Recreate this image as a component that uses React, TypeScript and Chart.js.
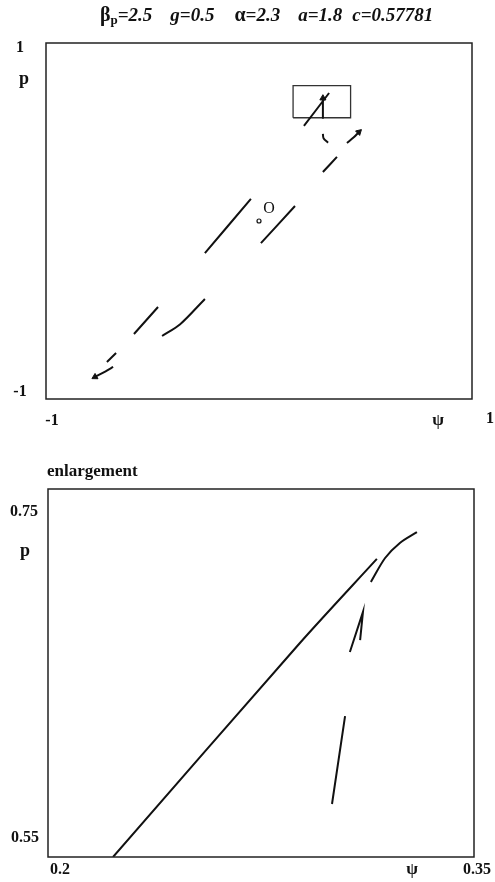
import React, { useEffect, useRef } from 'react';
import { Chart, registerables } from 'chart.js';
Chart.register(...registerables);

// ---------- data (psi, p) ----------
// top chart: phase portrait segments
const segA: number[][] = [[-0.254, -0.18], [-0.038, 0.124]];
const segB: number[][] = [[0.009, -0.124], [0.169, 0.084]];
const segC: number[][] = [[0.3, 0.275], [0.366, 0.36]];
const segCup: number[][] = [[0.3, 0.49], [0.303, 0.465], [0.324, 0.44]];
const segRightArrow: number[][] = [[0.413, 0.438], [0.445, 0.47], [0.469, 0.5]];
const segMain: number[][] = [[0.211, 0.534], [0.329, 0.719]];
const segTick: number[][] = [[0.3, 0.575], [0.3, 0.69]];
const segD: number[][] = [[-0.587, -0.635], [-0.474, -0.483]];
const segE: number[][] = [[-0.455, -0.646], [-0.37, -0.58], [-0.254, -0.438]];
const segF: number[][] = [[-0.714, -0.792], [-0.671, -0.742]];
const segG: number[][] = [[-0.77, -0.876], [-0.72, -0.845], [-0.685, -0.82]];
const originPoint: number[][] = [[0, 0]];
const zoomBoxPsi = [0.16, 0.43];
const zoomBoxP = [0.58, 0.76];

// bottom chart: enlargement
const enlLong: number[][] = [[0.2229, 0.55], [0.2887, 0.6663], [0.3158, 0.712]];
const enlCurve: number[][] = [[0.3137, 0.6995], [0.3187, 0.7125], [0.3239, 0.7207], [0.3299, 0.7266]];
const enlPeak: number[][] = [[0.3063, 0.6614], [0.3109, 0.6832], [0.3099, 0.6679]];
const enlLower: number[][] = [[0.3, 0.5788], [0.3046, 0.6266]];

// tick labels
const topYTicks = ['1', '-1'];
const topXTicks = ['-1', '1'];
const botYTicks = ['0.75', '0.55'];
const botXTicks = ['0.2', '0.35'];

const SERIF = '"Liberation Serif", "Times New Roman", serif';

const pts = (a: number[][]) => a.map(([x, y]) => ({ x, y }));

type Lbl = { text: string; x: number; y: number; font: string; align?: CanvasTextAlign };
type Piece = { t: string; font: string; dy?: number; gap?: number };

function makePlugin(labels: Lbl[], title?: { x: number; y: number; pieces: Piece[] }) {
  return {
    id: 'frameText',
    afterDraw(chart: any) {
      const { ctx, chartArea: a } = chart;
      ctx.save();
      ctx.strokeStyle = '#222';
      ctx.lineWidth = 1.5;
      ctx.strokeRect(a.left, a.top, a.right - a.left, a.bottom - a.top);
      ctx.fillStyle = '#111';
      ctx.textBaseline = 'middle';
      for (const l of labels) {
        ctx.font = l.font;
        ctx.textAlign = l.align || 'center';
        ctx.fillText(l.text, l.x, l.y);
      }
      if (title) {
        ctx.textAlign = 'left';
        let x = title.x;
        for (const p of title.pieces) {
          x += p.gap || 0;
          ctx.font = p.font;
          ctx.fillText(p.t, x, title.y + (p.dy || 0));
          x += ctx.measureText(p.t).width;
        }
      }
      ctx.restore();
    },
  };
}

const line = (data: number[][], extra: any = {}) => ({
  data: pts(data),
  showLine: true,
  borderColor: '#111',
  backgroundColor: '#111',
  borderWidth: 2,
  pointRadius: 0,
  tension: 0.3,
  ...extra,
});

const arrowEnd = (n: number, idx: number, rot: number) => ({
  pointRadius: Array.from({ length: n }, (_, i) => (i === idx ? 3.5 : 0)),
  pointStyle: 'triangle',
  pointRotation: rot,
  pointBackgroundColor: '#111',
  pointBorderColor: '#111',
  pointBorderWidth: 1,
});

export default function App() {
  const topRef = useRef<HTMLCanvasElement>(null);
  const botRef = useRef<HTMLCanvasElement>(null);

  useEffect(() => {
    const boxData = [
      [zoomBoxPsi[0], zoomBoxP[0]],
      [zoomBoxPsi[1], zoomBoxP[0]],
      [zoomBoxPsi[1], zoomBoxP[1]],
      [zoomBoxPsi[0], zoomBoxP[1]],
      [zoomBoxPsi[0], zoomBoxP[0]],
    ];
    const bold = (s: number) => `bold ${s}px ${SERIF}`;
    const boldIt = (s: number) => `italic bold ${s}px ${SERIF}`;

    const topLabels: Lbl[] = [
      { text: topYTicks[0], x: 20, y: 48, font: bold(16) },
      { text: 'p', x: 24, y: 79, font: bold(18) },
      { text: topYTicks[1], x: 20, y: 392, font: bold(16) },
      { text: topXTicks[0], x: 52, y: 421, font: bold(16) },
      { text: 'ψ', x: 438, y: 421, font: bold(17) },
      { text: topXTicks[1], x: 490, y: 419, font: bold(16) },
      { text: 'O', x: 269, y: 209, font: `${16}px ${SERIF}` },
    ];
    const title = {
      x: 100,
      y: 16,
      pieces: [
        { t: 'β', font: bold(20) },
        { t: 'p', font: bold(13), dy: 5 },
        { t: '=2.5', font: boldIt(19) },
        { t: 'g=0.5', font: boldIt(19), gap: 18 },
        { t: 'α', font: bold(20), gap: 20 },
        { t: '=2.3', font: boldIt(19) },
        { t: 'a=1.8', font: boldIt(19), gap: 18 },
        { t: 'c=0.57781', font: boldIt(19), gap: 10 },
      ],
    };

    const top = new Chart(topRef.current!, {
      type: 'scatter',
      data: {
        datasets: [
          line(segA),
          line(segB),
          line(segC),
          line(segCup),
          line(segRightArrow, arrowEnd(segRightArrow.length, segRightArrow.length - 1, 47)),
          line(segMain),
          line(segTick, arrowEnd(segTick.length, segTick.length - 1, 0)),
          line(segD),
          line(segE),
          line(segF),
          line(segG, arrowEnd(segG.length, 0, 241)),
          line(boxData, { borderWidth: 1.3, borderColor: '#333', tension: 0 }),
          {
            data: pts(originPoint),
            showLine: false,
            pointRadius: 2,
            pointBackgroundColor: '#fff',
            pointBorderColor: '#111',
            pointBorderWidth: 1.2,
          },
        ],
      } as any,
      options: {
        animation: false,
        responsive: false,
        layout: { padding: { left: 46, right: 23, top: 43, bottom: 41 } },
        plugins: { legend: { display: false }, tooltip: { enabled: false }, title: { display: false } },
        scales: {
          x: { type: 'linear', min: -1, max: 1, display: false },
          y: { type: 'linear', min: -1, max: 1, display: false },
        },
      },
      plugins: [makePlugin(topLabels, title)],
    });

    const botLabels: Lbl[] = [
      { text: 'enlargement', x: 47, y: 32, font: bold(17), align: 'left' },
      { text: botYTicks[0], x: 24, y: 72, font: bold(16) },
      { text: 'p', x: 25, y: 111, font: bold(18) },
      { text: botYTicks[1], x: 25, y: 398, font: bold(16) },
      { text: botXTicks[0], x: 60, y: 430, font: bold(16) },
      { text: 'ψ', x: 412, y: 430, font: bold(17) },
      { text: botXTicks[1], x: 477, y: 430, font: bold(16) },
    ];

    const bot = new Chart(botRef.current!, {
      type: 'scatter',
      data: {
        datasets: [line(enlLong), line(enlCurve), line(enlPeak, { tension: 0 }), line(enlLower)],
      } as any,
      options: {
        animation: false,
        responsive: false,
        layout: { padding: { left: 48, right: 21, top: 49, bottom: 25 } },
        plugins: { legend: { display: false }, tooltip: { enabled: false }, title: { display: false } },
        scales: {
          x: { type: 'linear', min: 0.2, max: 0.35, display: false },
          y: { type: 'linear', min: 0.55, max: 0.75, display: false },
        },
      },
      plugins: [makePlugin(botLabels)],
    });

    return () => {
      top.destroy();
      bot.destroy();
    };
  }, []);

  return (
    <div style={{ position: 'absolute', left: 0, top: 0, width: 495, height: 882, background: '#fff' }}>
      <canvas ref={topRef} width={495} height={440} style={{ position: 'absolute', left: 0, top: 0, display: 'block' }} />
      <canvas ref={botRef} width={495} height={442} style={{ position: 'absolute', left: 0, top: 440, display: 'block' }} />
    </div>
  );
}
